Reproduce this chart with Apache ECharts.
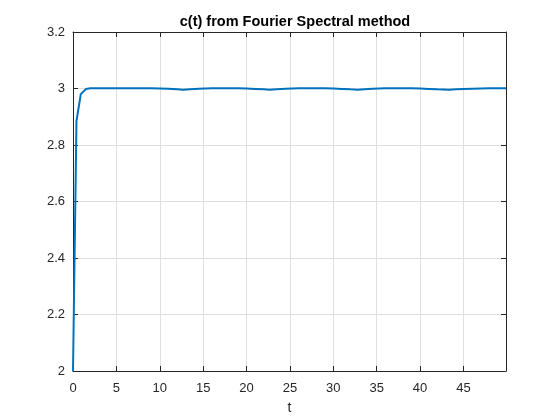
<!DOCTYPE html>
<html>
<head>
<meta charset="utf-8">
<script src="https://cdn.jsdelivr.net/npm/echarts@6/dist/echarts.min.js"></script>
<style>html,body{margin:0;padding:0;background:#fff;}#c{width:560px;height:420px;}</style>
</head>
<body>
<div id="c"></div>
<script>
const titleText = 'c(t) from Fourier Spectral method';
const xLabel = 't';
const tValues = [0, 0.4, 0.9, 1.5, 2, 3, 4, 5, 6, 7, 8, 9, 10, 11, 12, 12.7, 13.5, 14.5, 16, 17, 18, 19, 20, 21, 22, 22.6, 23.5, 24.5, 26, 27, 28, 29, 30, 31, 32, 32.8, 33.6, 34.5, 36, 37, 38, 39, 40, 41, 42, 43.3, 44.2, 45, 46, 47, 48, 49, 49.9];
const cValues = [2.0, 2.885, 2.98, 2.998, 3.001, 3.001, 3.0005, 3.001, 3.001, 3.001, 3.001, 3.0005, 3.0, 2.999, 2.9975, 2.996, 2.9975, 2.999, 3.0005, 3.001, 3.001, 3.0005, 3.0, 2.9985, 2.997, 2.996, 2.9975, 2.999, 3.0005, 3.001, 3.001, 3.0005, 3.0, 2.9985, 2.997, 2.996, 2.9975, 2.999, 3.0005, 3.001, 3.001, 3.0005, 3.0, 2.9985, 2.997, 2.996, 2.9975, 2.9985, 2.9995, 3.0, 3.0005, 3.0005, 3.0005];
const xMin = 0, xMax = 49.9, xStep = 5;
const yMin = 2, yMax = 3.2, yStep = 0.2;

const chart = echarts.init(document.getElementById('c'), null, {renderer: 'canvas'});
const axisCol = '#262626';
const font = 'Liberation Sans, Arial, Helvetica, sans-serif';
const fmtX = v => (Math.abs(v / xStep - Math.round(v / xStep)) < 1e-6) ? String(Math.round(v)) : '';
chart.setOption({
  animation: false,
  backgroundColor: '#ffffff',
  title: {
    text: titleText, left: 290, top: 9, textAlign: 'center',
    textStyle: {fontFamily: font, fontSize: 14.5, fontWeight: 'bold', color: '#000'}
  },
  grid: {left: 73, right: 54, top: 32, bottom: 47, show: false},
  xAxis: [{
    type: 'value', min: xMin, max: xMax, interval: xStep, position: 'bottom',
    name: xLabel, nameLocation: 'middle', nameGap: 30,
    nameTextStyle: {fontFamily: font, fontSize: 14, color: axisCol},
    axisLine: {show: true, onZero: false, lineStyle: {color: axisCol, width: 1}},
    axisTick: {show: true, inside: true, length: 5, lineStyle: {color: axisCol}},
    axisLabel: {formatter: fmtX, fontFamily: font, fontSize: 13, color: axisCol, margin: 11, showMaxLabel: false},
    splitLine: {show: true, lineStyle: {color: '#dfdfdf', width: 1}}
  }, {
    type: 'value', min: xMin, max: xMax, interval: xStep, position: 'top',
    axisLine: {show: true, onZero: false, lineStyle: {color: axisCol, width: 1}},
    axisTick: {show: true, inside: true, length: 5, lineStyle: {color: axisCol}},
    axisLabel: {show: false}, splitLine: {show: false}
  }],
  yAxis: [{
    type: 'value', min: yMin, max: yMax, interval: yStep, position: 'left',
    axisLine: {show: true, onZero: false, lineStyle: {color: axisCol, width: 1}},
    axisTick: {show: true, inside: true, length: 5, lineStyle: {color: axisCol}},
    axisLabel: {fontFamily: font, fontSize: 13, color: axisCol, margin: 8},
    splitLine: {show: true, lineStyle: {color: '#dfdfdf', width: 1}}
  }, {
    type: 'value', min: yMin, max: yMax, interval: yStep, position: 'right',
    axisLine: {show: true, onZero: false, lineStyle: {color: axisCol, width: 1}},
    axisTick: {show: true, inside: true, length: 5, lineStyle: {color: axisCol}},
    axisLabel: {show: false}, splitLine: {show: false}
  }],
  series: [{
    type: 'line', xAxisIndex: 0, yAxisIndex: 0,
    data: tValues.map((t, i) => [t, cValues[i]]),
    showSymbol: false, smooth: false,
    lineStyle: {color: '#0072BD', width: 2},
    itemStyle: {color: '#0072BD'}
  }]
});
</script>
</body>
</html>
